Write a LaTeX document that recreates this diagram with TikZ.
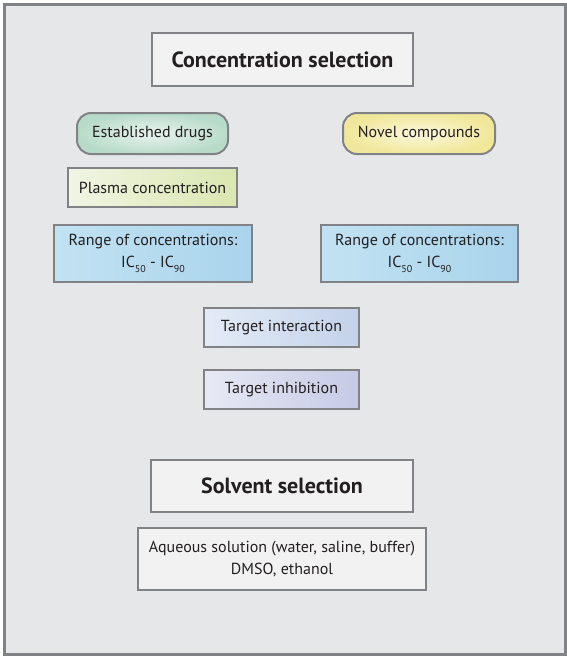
\documentclass[tikz,border=0pt]{standalone}
\usepackage{fontspec}
\setmainfont{PT Sans}
\usetikzlibrary{positioning}

\definecolor{edgegray}{HTML}{808285}
\definecolor{pagegray}{HTML}{E6E7E8}
\definecolor{headfill}{HTML}{F2F2F2}
\definecolor{inkgray}{HTML}{231F20}
\definecolor{drugout}{HTML}{B8DBC9}
\definecolor{drugin}{HTML}{EAF4EF}
\definecolor{novelout}{HTML}{F1E79A}
\definecolor{novelin}{HTML}{FBF8DC}
\definecolor{plasmaL}{HTML}{F1F5E4}
\definecolor{plasmaR}{HTML}{D9E7B0}
\definecolor{rangeL}{HTML}{C2E2F2}
\definecolor{rangeR}{HTML}{A9D4EC}
\definecolor{interL}{HTML}{E3EBF6}
\definecolor{interR}{HTML}{C3D2EA}
\definecolor{inhibL}{HTML}{E7E9F4}
\definecolor{inhibR}{HTML}{C6CAE5}

\newcommand{\lowsub}[1]{\raisebox{-0.6ex}{\fontsize{10}{10}\selectfont #1}}

\tikzset{
  box/.style={draw=edgegray, line width=2pt, inner sep=0pt, align=center,
    text=inkgray, font=\fontsize{16}{22}\selectfont},
  headbox/.style={box, fill=headfill, font=\bfseries\fontsize{22}{26}\selectfont},
  pillbox/.style={box, rounded corners=14pt},
}

\begin{document}
\begin{tikzpicture}[x=1pt,y=-1pt]
\useasboundingbox (0,0) rectangle (567,656);
\node[draw=edgegray, fill=pagegray, line width=2.5pt, anchor=north west,
  minimum width=561, minimum height=650] (frame) at (3,3) {};

% concentration part
\node[headbox, minimum width=261, minimum height=53] (conc) at (282.5,59.5) {Concentration selection};

\node[pillbox, inner color=drugin, outer color=drugout,
  minimum width=151, minimum height=41] (drugs) at (152.5,133.5) {Established drugs};
\node[pillbox, inner color=novelin, outer color=novelout,
  minimum width=152, minimum height=41] (novel) at (419,133.5) {Novel compounds};

\node[box, left color=plasmaL, right color=plasmaR,
  minimum width=169, minimum height=39] (plasma) at (152.5,187.5) {Plasma concentration};

\node[box, left color=rangeL, right color=rangeR,
  minimum width=198, minimum height=57] (rangeA) at (153,253.5)
  {Range of concentrations:\\IC\lowsub{50} - IC\lowsub{90}};
\node[box, left color=rangeL, right color=rangeR,
  minimum width=197, minimum height=57] (rangeB) at (419.5,253.5)
  {Range of concentrations:\\IC\lowsub{50} - IC\lowsub{90}};

\node[box, left color=interL, right color=interR,
  minimum width=155, minimum height=39] (inter) at (281.5,327.5) {Target interaction};
\node[box, left color=inhibL, right color=inhibR,
  minimum width=155, minimum height=39] (inhib) at (281.5,389.5) {Target inhibition};

% solvent part
\node[headbox, minimum width=262, minimum height=52] (solv) at (282,486) {Solvent selection};
\node[box, fill=headfill, minimum width=288, minimum height=62] (aq) at (282,559)
  {Aqueous solution (water, saline, buffer)\\DMSO, ethanol};
\end{tikzpicture}
\end{document}
